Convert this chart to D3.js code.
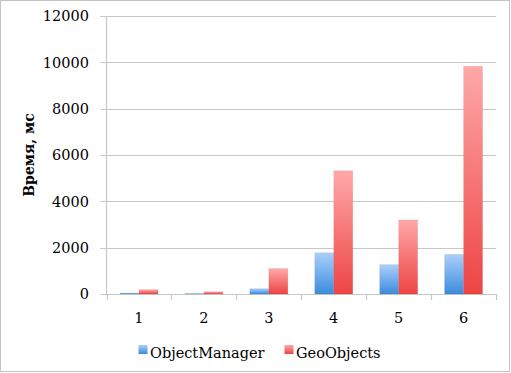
<!DOCTYPE html>
<html>
<head>
<meta charset="utf-8">
<script src="https://cdn.jsdelivr.net/npm/d3@7"></script>
<style>
  body { margin: 0; background: #fff; }
  svg { display: block; }
</style>
</head>
<body>
<div id="chart"></div>
<script>
// data
var categories = ["1", "2", "3", "4", "5", "6"];
var seriesNames = ["ObjectManager", "GeoObjects"];
var objectManager = [45, 30, 230, 1780, 1270, 1710];
var geoObjects = [190, 100, 1100, 5320, 3200, 9830];
var yTicks = [0, 2000, 4000, 6000, 8000, 10000, 12000];

var width = 511, height = 373;
var plot = {left: 106.5, right: 496, top: 16, bottom: 294};
var font = "'DejaVu Serif', serif";

var svg = d3.select("#chart").append("svg")
    .attr("width", width)
    .attr("height", height);

// gradients for the bars
var defs = svg.append("defs");
var grads = [
    {id: "gBlue", top: "#abcffb", bottom: "#3c8bdd"},
    {id: "gRed", top: "#ffa8a8", bottom: "#ee4444"}
];
grads.forEach(function(g) {
    var lg = defs.append("linearGradient")
        .attr("id", g.id)
        .attr("x1", 0).attr("y1", 0).attr("x2", 0).attr("y2", 1);
    lg.append("stop").attr("offset", "0%").attr("stop-color", g.top);
    lg.append("stop").attr("offset", "100%").attr("stop-color", g.bottom);
});
var fills = ["url(#gBlue)", "url(#gRed)"];

// outer frame
svg.append("rect")
    .attr("x", 0.5).attr("y", 0.5)
    .attr("width", 509).attr("height", 371)
    .attr("fill", "#fff")
    .attr("stroke", "#c4c4c4");

var y = d3.scaleLinear()
    .domain([0, 12000])
    .range([plot.bottom, plot.top]);

var x0 = d3.scaleBand()
    .domain(categories)
    .range([plot.left, plot.right])
    .padding(0);

var x1 = d3.scaleBand()
    .domain(seriesNames)
    .range([13.5, 51.5])
    .padding(0);

// gridlines
svg.append("g").selectAll("line")
    .data(yTicks)
    .enter().append("line")
    .attr("x1", plot.left - 6)
    .attr("x2", plot.right)
    .attr("y1", function(d) { return Math.round(y(d)) + 0.5; })
    .attr("y2", function(d) { return Math.round(y(d)) + 0.5; })
    .attr("stroke", "#c6c6c6")
    .attr("stroke-width", 1.2);

// y axis line
svg.append("line")
    .attr("x1", plot.left).attr("x2", plot.left)
    .attr("y1", plot.top).attr("y2", plot.bottom + 0.5)
    .attr("stroke", "#c6c6c6")
    .attr("stroke-width", 1.2);

// y tick labels
svg.append("g").selectAll("text")
    .data(yTicks)
    .enter().append("text")
    .attr("x", 89)
    .attr("y", function(d) { return y(d); })
    .attr("dy", "0.36em")
    .attr("text-anchor", "end")
    .style("font-family", font)
    .style("font-size", "14.5px")
    .style("fill", "#000")
    .text(function(d) { return d; });

// x tick marks at band boundaries
var bounds = categories.map(function(c) { return x0(c); }).concat([plot.right]);
svg.append("g").selectAll("line")
    .data(bounds)
    .enter().append("line")
    .attr("x1", function(d) { return Math.round(d) + 0.5; })
    .attr("x2", function(d) { return Math.round(d) + 0.5; })
    .attr("y1", plot.bottom)
    .attr("y2", plot.bottom + 6)
    .attr("stroke", "#c6c6c6")
    .attr("stroke-width", 1.2);

// x labels
svg.append("g").selectAll("text")
    .data(categories)
    .enter().append("text")
    .attr("x", function(d) { return x0(d) + x0.bandwidth() / 2; })
    .attr("y", 323)
    .attr("text-anchor", "middle")
    .style("font-family", font)
    .style("font-size", "14.5px")
    .text(function(d) { return d; });

// bars
var groups = svg.append("g").selectAll("g")
    .data(categories)
    .enter().append("g")
    .attr("transform", function(d) { return "translate(" + x0(d) + ",0)"; });

groups.selectAll("rect")
    .data(function(d, i) {
        return [
            {name: seriesNames[0], value: objectManager[i], s: 0},
            {name: seriesNames[1], value: geoObjects[i], s: 1}
        ];
    })
    .enter().append("rect")
    .attr("x", function(d) { return x1(d.name); })
    .attr("y", function(d) { return y(d.value); })
    .attr("width", x1.bandwidth())
    .attr("height", function(d) { return plot.bottom - y(d.value); })
    .attr("fill", function(d) { return fills[d.s]; })
    .attr("stroke", "rgba(0,0,0,0.06)")
    .attr("stroke-width", 1);

// y axis title
svg.append("text")
    .attr("transform", "translate(34,155) rotate(-90)")
    .attr("text-anchor", "middle")
    .style("font-family", font)
    .style("font-size", "14px")
    .style("font-weight", "bold")
    .text("Время, мс");

// legend
var legend = [
    {name: seriesNames[0], fill: fills[0], x: 138.5},
    {name: seriesNames[1], fill: fills[1], x: 284.5}
];
var lg = svg.append("g").selectAll("g")
    .data(legend)
    .enter().append("g")
    .attr("transform", function(d) { return "translate(" + d.x + ",0)"; });
lg.append("rect")
    .attr("x", 0).attr("y", 345)
    .attr("width", 9).attr("height", 9)
    .attr("fill", function(d) { return d.fill; });
lg.append("text")
    .attr("x", 11.5)
    .attr("y", 358)
    .style("font-family", font)
    .style("font-size", "14.5px")
    .text(function(d) { return d.name; });
</script>
</body>
</html>
